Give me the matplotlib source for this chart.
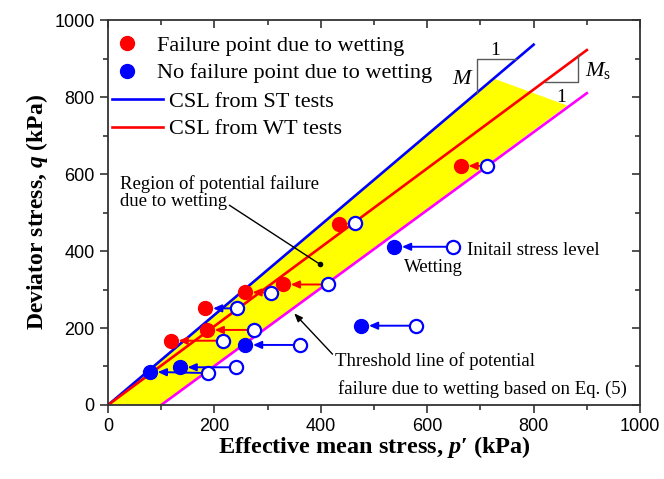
import matplotlib
matplotlib.use("Agg")
import matplotlib.pyplot as plt
from matplotlib.lines import Line2D

# ---------------- data ----------------
init_p = [712, 465, 413, 306, 274, 216, 243, 360, 241, 187, 648, 579]
init_q = [621, 472, 313, 292, 195, 167, 251, 156, 98, 83, 411, 206]
wet_p = [663, 434, 329, 257, 186, 118, 183, 258, 135, 79, 538, 476]
wet_q = [621, 470, 313, 293, 195, 167, 251, 156, 98, 86, 411, 206]
failed = [True, True, True, True, True, True, True, False, False, False, False, False]
arrow_red = [True, True, True, True, True, True, False, False, False, False, False, False]

csl_st_p = [0, 800]
csl_st_q = [0, 936]
csl_wt_p = [0, 900]
csl_wt_q = [0, 922]
thr_p = [100, 900]
thr_q = [0, 810]
region_p = [0, 725, 863, 100]
region_q = [0, 848, 778, 0]

x_ticks = [0, 200, 400, 600, 800, 1000]
y_ticks = [0, 200, 400, 600, 800, 1000]

plt.rcParams['mathtext.fontset'] = 'custom'
plt.rcParams['mathtext.rm'] = 'Liberation Serif'
plt.rcParams['mathtext.it'] = 'Liberation Serif:italic'
plt.rcParams['mathtext.bf'] = 'Liberation Serif:bold:italic'

serif = 'Liberation Serif'
fs_note = 13.5
fig = plt.figure(figsize=(6.64, 4.79), dpi=100)
ax = fig.add_axes([0.1627, 0.1545, 0.8012, 0.8037])

ax.fill(region_p, region_q, color='#FFFF00', lw=0, zorder=1)
ax.plot(csl_st_p, csl_st_q, color='#0000FF', lw=1.9, zorder=2)
ax.plot(csl_wt_p, csl_wt_q, color='#FF0000', lw=1.9, zorder=2)
ax.plot(thr_p, thr_q, color='#FF00FF', lw=1.9, zorder=2)

# arrows from initial to wetting point
for p0, q0, p1, q1, ar in zip(init_p, init_q, wet_p, wet_q, arrow_red):
    col = '#FF0000' if ar else '#0000FF'
    ax.annotate('', xy=(p1, q1), xytext=(p0, q0),
                arrowprops=dict(arrowstyle='-|>,head_length=0.5,head_width=0.22',
                                color=col, lw=1.4, shrinkA=5, shrinkB=5.5),
                zorder=3)

ax.plot(init_p, init_q, 'o', ms=9.5, mfc='white', mec='#0000FF', mew=1.6, ls='none', zorder=4)
for p1, q1, f in zip(wet_p, wet_q, failed):
    ax.plot(p1, q1, 'o', ms=10, color='#FF0000' if f else '#0000FF', ls='none', zorder=5)

# slope triangles
tri = dict(color='0.35', lw=1.0, zorder=2)
ax.plot([693, 693, 767], [811, 898, 898], **tri)
ax.plot([822, 884, 884], [838, 838, 908], **tri)
ax.text(728, 922, '1', family=serif, fontsize=14, ha='center', va='center')
ax.text(668, 850, '$M$', fontsize=16, ha='center', va='center')
ax.text(896, 868, r'$M_{\mathrm{s}}$', fontsize=16, ha='left', va='center')
ax.text(851, 800, '1', family=serif, fontsize=14, ha='center', va='center')

# annotations
ax.text(22, 552, 'Region of potential failure\ndue to wetting', family=serif,
        fontsize=fs_note, ha='left', va='center', linespacing=1.05)
ax.annotate('', xy=(399, 365), xytext=(228, 519),
            arrowprops=dict(arrowstyle='-', color='black', lw=1.0, shrinkA=0, shrinkB=0))
ax.plot([399], [365], 'o', ms=3, color='black', zorder=6)

ax.text(426, 114, 'Threshold line of potential', family=serif, fontsize=fs_note,
        ha='left', va='center')
ax.text(432, 42, 'failure due to wetting based on Eq. (5)', family=serif, fontsize=fs_note,
        ha='left', va='center')
ax.annotate('', xy=(350, 238), xytext=(422, 132),
            arrowprops=dict(arrowstyle='-|>,head_length=0.5,head_width=0.2',
                            color='black', lw=1.0, shrinkA=0, shrinkB=0))

ax.text(674, 402, 'Initail stress level', family=serif, fontsize=fs_note, ha='left', va='center')
ax.text(557, 356, 'Wetting', family=serif, fontsize=fs_note, ha='left', va='center')

# legends
h1 = [Line2D([], [], marker='o', ls='none', color='#FF0000', ms=10),
      Line2D([], [], marker='o', ls='none', color='#0000FF', ms=10)]
leg1 = ax.legend(h1, ['Failure point due to wetting', 'No failure point due to wetting'],
                 loc='upper left', bbox_to_anchor=(0.0066, 0.965), frameon=False,
                 prop={'family': serif, 'size': 16}, handlelength=1.2,
                 handletextpad=0.75, labelspacing=0.3, borderpad=0.1, borderaxespad=0.0)
ax.add_artist(leg1)
h2 = [Line2D([], [], color='#0000FF', lw=1.9), Line2D([], [], color='#FF0000', lw=1.9)]
ax.legend(h2, ['CSL from ST tests', 'CSL from WT tests'],
          loc='upper left', bbox_to_anchor=(0.0034, 0.82), frameon=False,
          prop={'family': serif, 'size': 16}, handlelength=2.3,
          handletextpad=0.27, labelspacing=0.3, borderpad=0.1, borderaxespad=0.0)

ax.set_xlim(0, 1000)
ax.set_ylim(0, 1000)
ax.set_xticks(x_ticks)
ax.set_yticks(y_ticks)
ax.set_xticks(range(100, 1000, 200), minor=True)
ax.set_yticks(range(100, 1000, 200), minor=True)
ax.tick_params(which='both', direction='out', top=False, right=False, width=1.2,
               labelsize=13, color='0.2')
ax.tick_params(which='major', length=6)
ax.tick_params(which='minor', length=3.5)
for lab in ax.get_xticklabels() + ax.get_yticklabels():
    lab.set_family('Liberation Sans')

# top/right ticks pointing inward
secx = ax.secondary_xaxis('top')
secx.set_xticks(x_ticks)
secx.set_xticks(range(100, 1000, 200), minor=True)
secx.tick_params(which='both', direction='in', labeltop=False, width=1.2, color='0.2')
secx.tick_params(which='major', length=6)
secx.tick_params(which='minor', length=3.5)
secy = ax.secondary_yaxis('right')
secy.set_yticks(y_ticks)
secy.set_yticks(range(100, 1000, 200), minor=True)
secy.tick_params(which='both', direction='in', labelright=False, width=1.2, color='0.2')
secy.tick_params(which='major', length=6)
secy.tick_params(which='minor', length=3.5)
for s in list(ax.spines.values()):
    s.set_linewidth(1.3)
    s.set_color('0.2')
secx.spines['top'].set_visible(False)
secy.spines['right'].set_visible(False)

ax.set_xlabel("Effective mean stress, $\\mathbf{p}$\u2032 (kPa)", family=serif,
              fontsize=17.5, fontweight='bold', labelpad=-1)
ax.set_ylabel('Deviator stress, $\\mathbf{q}$ (kPa)', family=serif,
              fontsize=17, fontweight='bold', labelpad=3)

fig.savefig('out.png', dpi=100)
